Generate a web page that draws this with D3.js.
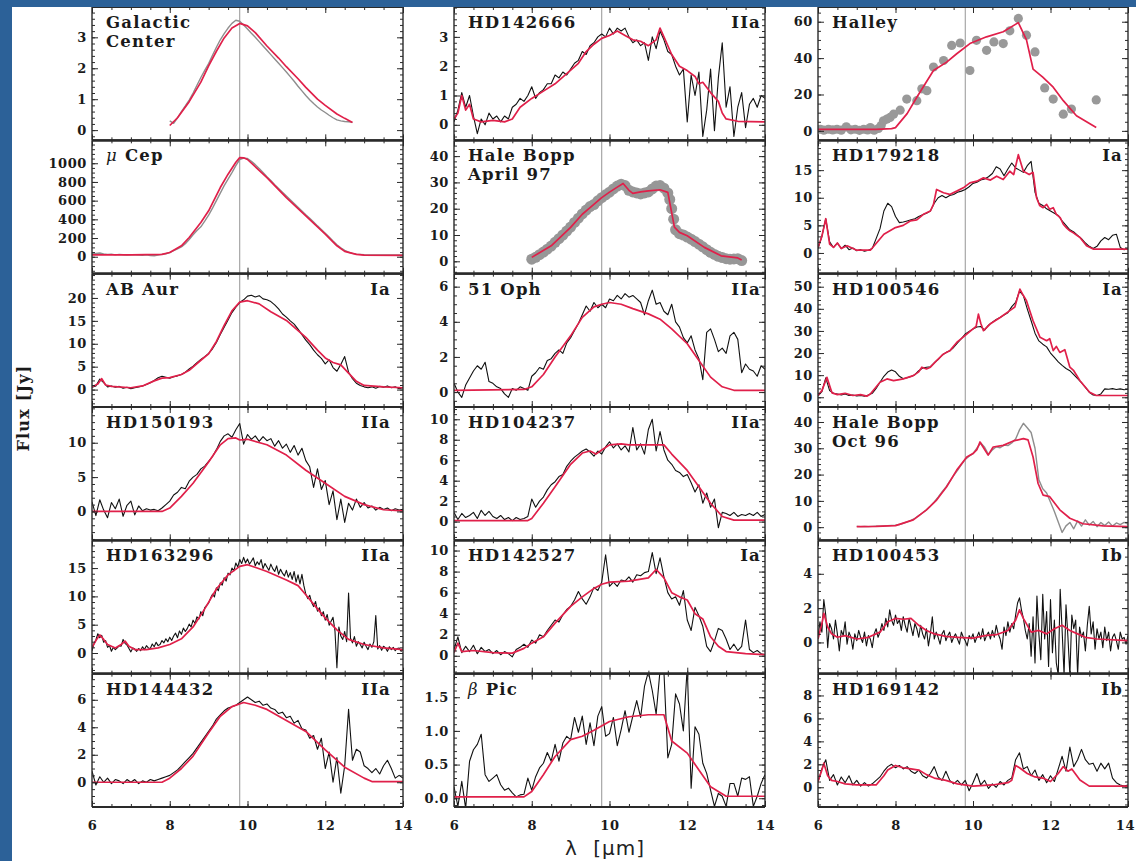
<!DOCTYPE html>
<html>
<head>
<meta charset="utf-8">
<script src="https://cdn.jsdelivr.net/npm/d3@7"></script>
<style>
  html, body { margin: 0; padding: 0; background: #fff; }
  svg { display: block; }
</style>
</head>
<body>
<svg id="fig" width="1136" height="861"></svg>
<script>
// ---------------------------------------------------------------
// Mid-infrared silicate spectra (flux in Jy vs wavelength in µm).
// "Obs" arrays are observed spectra, "Fit" arrays are model fits.
// Grid arrays list flux on a regular wavelength grid (start, step);
// pair arrays list [wavelength, flux].
// ---------------------------------------------------------------

// Galactic Center (grid 8.0 µm, step 0.1)
const galCenterObs = [
  0.30,0.22,0.40,0.60,0.78,0.97,1.20,1.45,1.70,1.93,
  2.15,2.42,2.68,2.92,3.12,3.30,3.45,3.55,3.52,3.40,
  3.27,3.13,3.00,2.86,2.72,2.58,2.44,2.30,2.16,2.02,
  1.88,1.73,1.58,1.42,1.27,1.12,0.98,0.86,0.75,0.65,
  0.57,0.48,0.40,0.33,0.30,0.28,0.27,0.25];
const galCenterFit = [[8.0,0.15],[8.2,0.40],[8.5,0.92],[8.8,1.55],[9.0,2.08],[9.2,2.55],[9.4,2.98],[9.6,3.30],[9.8,3.45],[10.0,3.37],[10.2,3.15],[10.5,2.72],[10.8,2.33],[11.0,2.05],[11.3,1.66],[11.5,1.38],[11.8,1.00],[12.0,0.80],[12.3,0.52],[12.5,0.38],[12.7,0.25]];

// mu Cep (grid 6.0, step 0.1)
const muCepObs = [
  30,35,40,30,25,28,20,25,22,18,
  20,22,18,15,20,12,10,18,25,32,
  45,65,85,105,140,185,235,280,320,380,
  445,520,600,680,760,830,900,975,1040,1055,
  1050,1020,985,945,900,855,815,770,730,690,
  650,610,570,530,490,450,412,372,330,292,
  252,210,168,128,95,68,48,36,28,25,
  22,20,20,18,20,18,20,18,20,18,
  20];
const muCepFit = [[6.0,20],[7.0,20],[7.8,25],[8.0,45],[8.3,117],[8.5,206],[8.8,367],[9.0,491],[9.3,740],[9.5,883],[9.7,1010],[9.8,1060],[9.9,1058],[10.0,1040],[10.5,847],[11.0,633],[11.5,437],[12.0,242],[12.3,117],[12.5,57],[12.8,25],[13.0,18],[14.0,15]];

// AB Aur (grid 6.0, step 0.1)
const abAurObs = [
  0.5,0.8,2.3,1.5,0.6,0.8,0.5,0.7,0.3,0.5,
  0.2,0.4,0.6,0.8,1.1,1.5,2.0,2.6,2.9,2.7,
  2.5,2.8,3.0,3.3,3.8,4.5,5.1,5.9,6.6,7.2,
  7.9,8.9,10.3,12.0,13.6,15.2,16.8,18.0,19.0,19.6,
  20.4,20.6,20.2,20.5,19.8,19.6,19.2,18.5,17.6,16.5,
  15.8,15.0,14.3,13.2,12.0,10.8,9.8,8.6,7.6,6.8,
  5.6,6.5,4.8,4.0,5.5,7.2,3.8,2.4,1.4,0.9,
  0.6,0.4,0.6,0.3,0.7,0.5,0.8,0.4,0.6,0.2,
  0.4];
const abAurFit = [[6.0,0.6],[6.15,1.2],[6.25,2.4],[6.35,1.0],[6.5,0.7],[7.0,0.4],[7.3,0.8],[7.6,1.9],[7.8,2.5],[8.0,2.6],[8.3,3.3],[8.5,4.2],[8.8,6.4],[9.0,7.8],[9.2,10.5],[9.4,14.0],[9.6,17.2],[9.8,19.1],[10.0,19.4],[10.3,18.7],[10.6,17.0],[11.0,15.1],[11.5,11.4],[11.8,8.6],[12.0,6.9],[12.2,5.9],[12.4,5.4],[12.6,3.6],[12.8,1.8],[13.0,0.9],[13.5,0.6],[14.0,0.4]];

// HD150193 (grid 6.0, step 0.1)
const hd150193Obs = [
  1.4,-0.6,1.7,0.2,-0.9,1.3,0.4,1.8,-0.7,0.9,
  1.5,-0.5,0.8,0.1,0.4,0.2,0.3,0.1,0.5,1.0,
  1.5,2.4,2.8,3.5,3.3,4.4,5.0,5.4,6.2,6.6,
  7.3,8.0,9.0,10.2,11.0,11.3,10.8,11.9,12.8,9.8,
  11.2,10.5,11.0,10.2,10.9,10.3,10.6,9.5,10.3,9.2,
  9.8,8.6,9.6,8.2,9.2,7.4,6.5,3.5,6.2,3.2,
  4.5,1.0,3.0,-1.2,1.8,-1.6,1.2,0.2,1.8,0.6,
  1.3,0.5,0.8,0.2,0.6,0.3,0.5,0.1,0.4,0.2,
  0.3];
const hd150193Fit = [[6.0,0],[7.8,0],[8.0,0.5],[8.3,2.2],[8.6,4.1],[9.0,7.2],[9.3,9.7],[9.5,10.6],[9.7,10.7],[9.8,10.4],[10.0,10.5],[10.5,9.7],[11.0,8.2],[11.5,6.0],[12.0,4.1],[12.5,2.2],[13.0,1.0],[13.5,0.25],[14.0,0.1]];

// HD163296 (grid 6.0, step 0.05)
const hd163296Obs = [
  0.4,1.6,2.3,3.4,2.7,3.1,1.9,2.2,1.0,1.3,0.3,1.0,0.6,0.9,1.3,1.2,2.4,1.7,1.4,0.8,
  0.2,0.9,0.7,0.3,0.8,0.4,1.1,0.6,1.3,0.9,0.8,1.6,1.1,1.9,1.3,1.5,2.2,1.8,2.5,2.0,
  2.8,2.2,3.0,3.5,2.7,3.9,3.3,4.4,3.8,4.3,5.1,4.6,5.8,5.2,6.4,6.0,7.3,6.6,8.0,8.4,
  8.8,9.7,10.4,9.9,11.5,11.0,12.4,12.0,13.3,12.7,14.1,13.8,15.0,14.5,15.9,15.2,16.5,15.8,16.9,15.9,
  16.6,15.7,16.2,16.8,15.4,16.1,15.6,16.5,14.9,15.8,15.2,14.6,15.7,14.9,14.4,15.4,13.9,14.8,14.1,13.6,
  14.6,13.4,14.2,13.0,14.4,12.5,13.8,12.2,13.9,11.9,10.4,9.6,10.2,8.9,8.2,9.1,7.4,8.0,6.6,7.3,
  5.8,6.8,4.9,5.6,6.3,3.9,-2.6,4.6,3.0,2.4,3.8,2.0,10.6,2.6,1.8,2.9,1.2,2.0,1.5,0.9,
  1.9,1.2,0.6,1.6,1.0,2.0,6.6,0.7,1.3,0.5,1.2,0.9,0.3,1.1,0.6,1.0,0.4,0.8,0.9,0.3,
  0.6];
const hd163296Fit = [[6.0,1.0],[6.1,2.2],[6.2,3.2],[6.3,2.4],[6.4,1.5],[6.6,0.9],[6.75,1.5],[6.85,2.1],[6.95,1.2],[7.1,0.6],[7.4,0.6],[7.7,0.9],[8.0,1.5],[8.3,2.5],[8.6,4.6],[8.9,7.8],[9.2,11.3],[9.5,13.8],[9.8,15.3],[10.0,15.6],[10.5,14.4],[11.0,12.9],[11.3,11.9],[11.5,10.3],[11.8,7.8],[12.0,6.2],[12.3,4.1],[12.6,2.4],[13.0,1.5],[13.5,0.9],[14.0,0.6]];

// HD144432 (grid 6.0, step 0.1)
const hd144432Obs = [
  0.8,-0.2,0.4,0.0,0.3,-0.1,0.2,0.1,-0.1,0.2,
  0.0,0.2,-0.1,0.1,0.0,0.2,0.1,0.2,0.3,0.4,
  0.5,0.7,0.9,1.2,1.5,1.8,2.1,2.5,2.9,3.3,
  3.7,4.1,4.6,4.9,5.2,5.4,5.5,5.6,5.8,6.0,
  6.2,6.0,5.8,5.9,5.6,5.7,5.4,5.3,5.0,5.1,
  4.7,4.8,4.3,4.5,3.9,3.8,3.2,3.4,2.4,3.2,
  1.0,2.2,0.0,1.8,-0.8,1.2,5.3,1.6,2.4,2.2,
  1.2,1.0,0.7,1.0,0.6,1.2,1.6,1.0,0.3,0.5,
  0.3];
const hd144432Fit = [[6.0,0],[7.8,0],[8.0,0.3],[8.3,1.0],[8.6,1.9],[9.0,3.6],[9.3,4.8],[9.6,5.5],[9.9,5.8],[10.2,5.6],[10.5,5.3],[11.0,4.5],[11.5,3.7],[12.0,2.35],[12.5,1.1],[13.0,0.3],[13.2,0.05],[14.0,0.05]];

// HD142666 (grid 6.0, step 0.1)
const hd142666Obs = [
  0.1,0.5,1.1,0.6,1.0,0.3,-0.3,0.2,0.0,0.4,
  0.2,0.3,0.1,0.3,0.2,0.6,0.7,0.9,0.8,1.0,
  1.3,0.9,1.1,1.2,1.4,1.4,1.7,1.6,1.8,1.7,
  1.9,2.1,2.2,2.5,2.4,2.7,2.8,3.0,3.1,3.0,
  3.3,3.1,3.3,3.2,3.3,3.0,2.8,2.9,2.7,2.8,
  2.2,3.0,2.6,3.2,2.9,2.5,2.4,2.0,1.7,1.9,
  0.1,1.7,1.0,1.8,-0.4,0.5,1.9,-0.2,1.6,2.8,
  0.6,1.3,-0.4,0.6,1.1,-0.1,0.7,0.9,0.6,1.0,
  0.9];
const hd142666Fit = [[6.0,0.2],[6.1,0.4],[6.2,1.0],[6.3,0.5],[6.4,0.7],[6.5,0.2],[6.7,0.1],[7.0,0.15],[7.3,0.1],[7.5,0.2],[7.7,0.6],[8.0,0.9],[8.3,1.15],[8.6,1.4],[8.9,1.75],[9.2,2.1],[9.4,2.5],[9.6,2.75],[9.8,2.95],[10.0,3.05],[10.2,3.2],[10.4,3.05],[10.6,2.9],[10.8,2.85],[11.0,2.7],[11.2,2.9],[11.3,3.3],[11.4,3.0],[11.6,2.4],[11.8,2.0],[12.0,1.85],[12.2,1.65],[12.3,1.4],[12.4,1.45],[12.6,1.1],[12.8,0.8],[12.9,0.4],[13.0,0.2],[13.3,0.12],[14.0,0.1]];

// Hale Bopp, April 1997 ([µm, Jy])
const haleBoppAprObs = [[8.0,0.8],[8.1,1.5],[8.2,2.5],[8.3,3.5],[8.4,4.6],[8.5,5.8],[8.6,7.2],[8.7,8.6],[8.8,10.0],[8.9,11.5],[9.0,13.0],[9.1,14.8],[9.2,16.4],[9.3,18.0],[9.4,19.5],[9.5,20.8],[9.6,21.6],[9.7,23.0],[9.8,24.2],[9.9,25.3],[10.0,26.3],[10.1,27.5],[10.2,28.6],[10.3,29.3],[10.4,28.8],[10.5,27.0],[10.6,26.4],[10.7,26.0],[10.8,25.6],[10.9,26.0],[11.0,26.4],[11.1,27.5],[11.2,28.6],[11.3,28.8],[11.4,27.8],[11.5,26.0],[11.55,23.5],[11.6,20.0],[11.65,16.0],[11.7,12.0],[11.8,10.5],[11.9,10.0],[12.0,9.2],[12.1,8.4],[12.2,7.5],[12.3,6.5],[12.4,5.5],[12.5,4.4],[12.6,3.4],[12.7,2.6],[12.8,1.9],[12.9,1.4],[13.0,1.0],[13.1,0.8],[13.2,0.9],[13.3,1.0],[13.4,0.3]];
const haleBoppAprFit = [[8.0,1.5],[8.5,5.9],[9.0,12.9],[9.3,17.9],[9.5,20.4],[9.8,24.2],[10.0,26.3],[10.2,28.2],[10.35,29.6],[10.5,27.0],[10.6,25.8],[10.8,26.4],[11.0,26.8],[11.3,27.2],[11.5,26.2],[11.67,13.0],[11.8,11.0],[12.0,9.7],[12.44,5.3],[12.87,2.1],[13.3,1.3],[13.4,0.5]];

// 51 Oph (grid 6.0, step 0.1)
const oph51Obs = [
  0.5,0.0,-0.3,0.4,0.8,1.2,1.5,1.3,1.7,0.6,
  0.5,0.3,0.2,-0.1,-0.3,0.2,0.1,0.3,0.2,0.1,
  0.9,1.1,1.4,1.3,1.8,1.9,2.2,2.4,2.2,2.8,
  3.1,3.5,3.9,4.4,4.9,4.6,5.1,4.8,5.0,4.8,
  5.3,5.2,5.5,5.3,5.6,5.4,5.5,5.3,5.1,4.4,
  5.2,5.8,5.0,5.1,4.6,4.4,5.0,4.0,3.7,3.1,
  2.8,3.2,2.4,1.9,0.7,3.4,3.6,3.0,2.3,2.5,
  2.2,3.2,3.4,3.0,1.1,1.6,1.3,1.2,0.9,1.5,
  1.3];
const oph51Fit = [[6.0,0.1],[7.8,0.15],[8.0,0.3],[8.3,1.0],[8.6,2.0],[9.0,3.2],[9.3,4.25],[9.6,4.85],[9.8,5.0],[10.0,5.1],[10.3,5.0],[10.6,4.75],[11.0,4.45],[11.3,4.15],[11.6,3.6],[12.0,2.75],[12.3,1.8],[12.6,0.85],[12.9,0.3],[13.2,0.1],[14.0,0.1]];

// HD104237 (grid 6.0, step 0.1)
const hd104237Obs = [
  0.9,0.2,0.8,0.4,0.6,0.9,0.3,1.1,0.6,1.0,
  0.5,0.3,0.6,0.2,0.4,0.1,0.4,0.2,0.3,0.5,
  2.2,1.4,2.0,2.4,3.1,3.6,3.9,4.4,4.6,5.4,
  5.9,6.3,6.6,6.9,7.1,6.8,6.4,6.9,6.6,7.3,
  7.8,7.2,7.6,7.0,7.4,6.8,9.2,7.0,7.6,6.6,
  9.0,10.0,6.9,8.8,7.0,6.0,5.6,5.0,4.8,4.4,
  4.6,3.8,2.9,3.6,1.8,2.8,1.4,2.2,-0.6,0.9,
  0.8,0.6,0.9,0.5,0.7,0.6,0.8,0.6,0.9,0.5,
  0.7];
const hd104237Fit = [[6.0,0.1],[7.9,0.1],[8.0,0.3],[8.3,1.8],[8.6,3.4],[9.0,5.6],[9.3,6.7],[9.5,6.9],[9.65,6.6],[9.8,7.0],[10.0,7.5],[10.3,7.6],[10.5,7.5],[11.0,7.5],[11.4,7.5],[11.6,6.6],[12.0,5.0],[12.3,3.4],[12.6,1.8],[12.9,0.5],[13.2,0.15],[14.0,0.15]];

// HD142527 (grid 6.0, step 0.1)
const hd142527Obs = [
  0.6,1.8,0.3,0.9,0.4,1.0,0.2,0.8,0.4,0.6,
  0.2,0.5,0.1,0.4,0.2,-0.1,0.6,0.8,1.1,0.8,
  1.5,1.2,2.0,1.8,2.4,2.9,3.4,3.2,3.9,4.4,
  4.7,5.3,6.1,5.4,4.9,5.6,6.5,6.2,7.0,9.6,
  6.6,7.0,6.6,7.2,7.1,7.5,7.0,7.7,7.6,7.9,
  8.0,9.8,7.8,9.3,7.5,6.0,5.4,5.6,4.8,6.2,
  3.4,2.4,4.6,3.8,2.8,0.9,0.4,1.4,2.6,2.4,
  1.6,0.6,1.1,0.5,0.9,3.4,0.6,0.3,0.5,0.2,
  0.1];
const hd142527Fit = [[6.0,0.3],[6.1,1.2],[6.2,0.4],[6.5,0.5],[7.0,0.3],[7.5,0.25],[7.8,0.7],[8.0,1.2],[8.3,1.8],[8.6,3.1],[9.0,4.7],[9.3,5.6],[9.6,6.4],[9.8,6.8],[10.0,7.0],[10.5,7.1],[11.0,7.4],[11.2,8.2],[11.4,7.4],[11.6,6.0],[11.8,5.6],[12.0,5.3],[12.2,4.0],[12.4,3.5],[12.6,1.8],[12.8,0.9],[13.0,0.4],[13.5,0.2],[14.0,0.1]];

// beta Pic (grid 6.0, step 0.1)
const betaPicObs = [
  0.17,-0.12,0.25,-0.15,0.55,0.72,0.80,0.95,0.35,0.25,
  0.30,0.35,0.20,0.12,0.15,0.08,0.02,0.05,0.06,0.30,
  0.12,0.32,0.45,0.52,0.68,0.55,0.80,0.55,0.82,0.92,
  0.87,1.20,0.98,1.22,0.80,1.12,0.78,1.22,1.36,0.92,
  0.96,1.20,0.78,1.02,1.30,0.98,1.22,1.45,1.20,1.66,
  1.88,1.60,1.25,1.90,1.88,0.60,0.80,1.55,1.40,1.00,
  1.95,0.15,1.06,0.95,0.52,0.37,0.12,-0.12,0.07,0.03,
  -0.12,0.22,0.22,0.03,0.30,0.28,0.32,-0.12,0.03,0.22,
  0.35];
const betaPicFit = [[6.0,0.02],[7.8,0.02],[8.0,0.1],[8.3,0.35],[8.6,0.62],[9.0,0.87],[9.3,0.92],[9.6,1.01],[10.0,1.14],[10.5,1.21],[11.0,1.24],[11.4,1.24],[11.6,0.85],[12.0,0.67],[12.3,0.42],[12.6,0.17],[13.0,0.03],[14.0,0.03]];

// Halley ([µm, Jy])
const halleyObs = [[6.06,0.9],[6.15,0.4],[6.27,0.9],[6.38,0.5],[6.49,0.9],[6.6,0.4],[6.73,2.2],[6.85,0.6],[6.96,0.9],[7.07,0.3],[7.18,0.9],[7.28,0.5],[7.35,1.8],[7.45,0.4],[7.56,1.3],[7.63,3.0],[7.69,5.5],[7.78,6.5],[7.86,7.4],[7.95,9.2],[8.12,11.4],[8.29,17.5],[8.55,16.6],[8.68,23.1],[8.81,22.1],[8.98,35.1],[9.24,38.7],[9.45,47.0],[9.67,48.3],[9.92,33.2],[10.09,49.8],[10.35,44.3],[10.54,48.9],[10.78,48.0],[10.95,55.0],[11.17,61.8],[11.38,52.6],[11.6,43.4],[11.85,23.6],[12.07,17.5],[12.33,9.2],[12.54,12.0],[13.18,17.0]];
const halleyFit = [[6.0,0.8],[7.5,0.8],[7.9,1.2],[8.0,1.8],[8.3,9.5],[8.55,18.5],[8.98,33.2],[9.32,37.8],[9.58,42.4],[9.92,48.0],[10.35,51.7],[10.78,54.5],[11.17,59.5],[11.38,50.0],[11.55,34.0],[11.8,29.5],[12.07,24.0],[12.33,16.6],[12.67,8.3],[13.18,1.8]];

// HD179218 (grid 6.0, step 0.1)
const hd179218Obs = [
  0.8,3.0,6.2,2.0,1.0,1.8,0.8,1.4,0.6,0.9,
  0.4,0.6,0.3,0.5,0.8,2.6,4.4,7.6,9.0,8.4,
  6.6,5.5,5.6,5.8,6.0,6.2,6.6,6.9,7.2,7.6,
  9.0,10.0,10.4,10.0,10.4,10.6,11.0,11.2,11.5,12.0,
  12.6,12.8,13.2,13.4,13.8,14.4,15.6,15.2,14.0,15.2,
  16.3,15.4,15.0,14.6,15.8,16.6,11.0,9.0,8.6,8.0,
  7.6,7.2,6.8,5.8,5.0,4.2,3.8,3.2,2.6,1.8,
  1.2,0.8,1.2,2.2,2.8,2.4,3.2,3.4,1.0,0.6,
  0.8];
const hd179218Fit = [[6.0,1.0],[6.1,3.0],[6.2,6.2],[6.3,1.6],[6.4,1.0],[6.5,1.8],[6.6,0.8],[6.75,1.3],[7.0,0.5],[7.35,0.5],[7.45,1.3],[7.7,3.4],[8.0,4.6],[8.2,5.0],[8.38,5.8],[8.55,6.0],[8.72,7.0],[8.9,7.6],[8.98,8.8],[9.06,11.5],[9.24,10.9],[9.4,10.6],[9.58,11.2],[9.75,11.8],[9.92,12.7],[10.1,13.0],[10.27,13.6],[10.45,13.2],[10.61,13.9],[10.78,13.3],[10.95,14.8],[11.05,14.2],[11.17,17.8],[11.3,14.8],[11.45,14.2],[11.55,14.6],[11.64,10.0],[11.72,8.6],[11.81,8.2],[11.9,8.8],[11.98,7.9],[12.07,8.2],[12.15,7.0],[12.25,6.4],[12.33,5.2],[12.42,4.5],[12.5,4.0],[12.6,3.6],[12.76,2.8],[12.93,1.3],[13.1,0.7],[14.0,0.7]];

// HD100546 (grid 6.0, step 0.1)
const hd100546Obs = [
  0.6,2.5,8.8,3.0,1.8,1.5,1.0,1.5,0.8,1.0,
  0.6,0.8,0.5,1.0,1.8,4.0,6.8,9.5,11.4,12.3,
  11.5,9.5,8.4,8.8,9.4,10.2,12.0,13.2,13.6,13.8,
  15.6,17.0,19.0,20.2,21.0,22.5,24.6,26.5,28.6,29.8,
  30.9,31.8,32.0,30.4,32.6,34.0,35.2,36.1,37.2,38.2,
  41.0,42.9,48.0,46.0,40.0,34.6,29.0,25.5,24.0,22.8,
  20.0,18.0,16.0,14.4,13.0,12.0,10.2,8.4,6.6,4.5,
  2.3,1.0,0.8,1.5,3.8,3.6,3.9,3.5,3.8,3.4,
  3.6];
const hd100546Fit = [[6.0,0.8],[6.1,3.0],[6.23,9.0],[6.36,2.0],[6.5,1.2],[6.7,1.8],[6.9,0.8],[7.1,1.2],[7.26,0.5],[7.35,1.5],[7.6,6.8],[7.78,8.3],[7.95,7.5],[8.1,8.0],[8.2,8.3],[8.46,9.8],[8.6,11.5],[8.68,13.6],[8.8,12.8],[8.9,13.6],[9.06,16.6],[9.24,19.6],[9.4,21.0],[9.58,24.8],[9.84,28.6],[10.0,30.9],[10.08,32.0],[10.14,37.6],[10.2,33.5],[10.27,30.1],[10.44,33.1],[10.7,36.1],[10.95,39.2],[11.08,40.8],[11.21,48.9],[11.3,46.0],[11.38,43.7],[11.55,34.6],[11.73,27.1],[11.9,25.6],[11.98,26.5],[12.07,21.1],[12.15,23.0],[12.24,20.3],[12.37,21.5],[12.5,13.6],[12.6,12.0],[12.76,7.5],[13.01,2.3],[13.18,0.8],[14.0,0.8]];

// Hale Bopp, October 1996 (grid 7.0, step 0.1)
const haleBoppOctObs = [
  0.3,0.2,0.3,0.2,0.3,0.4,0.4,0.5,0.6,0.7,
  0.8,1.0,1.5,2.0,2.6,3.4,4.4,5.5,6.6,8.0,
  9.6,11.4,13.4,15.2,17.4,19.6,21.6,23.8,25.8,27.0,
  28.0,30.0,32.0,30.4,27.6,29.4,30.6,30.2,31.2,31.0,
  32.0,33.5,37.0,39.5,37.8,36.0,30.0,18.0,14.6,13.0,
  9.5,6.0,2.0,-2.0,0.5,1.8,-0.6,2.4,0.4,2.8,
  0.8,2.2,0.2,1.8,0.6,2.0,0.4,1.6,1.0,1.8,
  1.2];
const haleBoppOctFit = [[7.0,0.25],[7.5,0.3],[8.0,0.6],[8.46,2.8],[8.8,6.6],[9.06,10.3],[9.32,15.4],[9.58,21.7],[9.84,26.7],[10.0,28.0],[10.1,29.5],[10.18,32.4],[10.28,30.0],[10.39,27.4],[10.52,30.5],[10.78,31.1],[11.04,32.8],[11.3,33.7],[11.42,33.2],[11.55,26.7],[11.68,16.6],[11.81,12.2],[11.98,11.6],[12.24,6.6],[12.5,3.4],[12.84,1.3],[13.36,0.5],[14.0,0.25]];

// HD100453 (grid 6.0, step 0.05)
const hd100453Obs = [
  0.3,1.2,0.6,2.5,1.6,-0.3,1.1,0.8,0.2,1.3,0.5,-0.5,0.7,0.4,1.2,-0.1,0.6,0.3,-0.4,0.5,
  0.1,0.7,0.3,0.0,0.6,-0.2,0.4,0.2,-0.3,0.5,0.8,0.3,0.6,1.1,0.7,1.4,0.9,1.9,1.3,1.0,
  1.6,1.1,1.3,0.7,1.5,1.0,0.6,1.4,0.9,0.4,1.1,0.8,0.3,1.0,0.5,0.2,0.8,-0.2,0.5,1.5,
  0.2,0.6,0.3,-0.1,0.5,0.7,0.1,0.4,0.6,0.0,0.3,0.5,0.2,-0.1,0.6,0.3,0.1,-0.2,0.4,0.2,
  0.5,0.0,0.3,0.6,0.2,0.8,0.1,0.4,0.6,0.2,0.7,0.3,1.0,0.5,0.2,-0.4,0.9,0.4,1.2,0.6,
  1.1,0.8,1.6,2.3,2.6,1.9,1.4,0.7,0.2,1.1,-0.8,1.5,-1.2,2.7,0.5,-1.0,2.8,0.2,1.8,-1.4,
  2.5,-0.6,1.3,-1.2,-1.9,3.1,0.7,-1.9,2.2,0.3,-1.9,1.6,0.8,1.3,-1.9,0.9,0.3,0.6,-0.5,1.0,
  2.1,0.5,1.2,-0.4,0.8,0.2,0.6,-0.3,0.9,0.1,0.6,-0.5,0.3,0.5,0.1,-0.4,0.6,0.2,0.3,-0.1,
  0.4];
const hd100453Fit = [[6.0,0.2],[6.1,1.1],[6.15,1.7],[6.25,0.9],[6.35,0.5],[6.5,0.3],[6.7,0.4],[7.0,0.2],[7.3,0.3],[7.6,0.6],[7.8,1.2],[8.0,1.4],[8.2,1.35],[8.4,1.4],[8.6,1.0],[8.8,0.7],[9.0,0.5],[9.3,0.35],[9.6,0.3],[10.0,0.25],[10.3,0.4],[10.6,0.45],[10.9,0.7],[11.1,1.3],[11.2,1.9],[11.3,1.4],[11.5,0.6],[11.7,0.7],[11.9,0.5],[12.1,0.8],[12.3,1.0],[12.5,0.7],[12.7,0.5],[12.9,0.3],[13.2,0.2],[14.0,0.1]];

// HD169142 (grid 6.0, step 0.1)
const hd169142Obs = [
  0.5,1.6,2.4,0.6,1.1,0.2,0.9,0.4,1.0,0.2,
  0.6,0.1,0.4,0.1,0.3,0.6,0.9,1.4,1.8,2.0,
  1.7,1.9,1.6,1.8,1.4,1.2,1.5,1.0,0.8,1.2,
  1.8,0.9,0.6,1.4,0.6,0.3,0.6,0.2,0.6,-0.3,
  0.4,1.2,0.2,0.6,-0.1,0.3,0.0,0.5,0.2,0.6,
  0.8,2.4,3.0,1.6,1.8,1.0,1.5,0.6,1.1,0.4,
  1.0,0.5,1.6,2.7,1.4,3.5,1.8,2.4,3.3,2.4,
  2.0,2.1,1.4,2.1,1.6,2.1,0.8,0.4,0.2,0.1,
  0.2];
const hd169142Fit = [[6.0,0.5],[6.1,1.5],[6.15,2.1],[6.25,1.0],[6.35,0.6],[6.5,0.5],[6.7,0.3],[7.0,0.2],[7.5,0.2],[7.7,1.0],[7.8,1.5],[8.0,1.9],[8.2,1.7],[8.4,1.6],[8.6,1.5],[8.8,1.1],[9.0,0.8],[9.3,0.6],[9.6,0.3],[10.0,0.1],[10.5,0.2],[10.9,0.4],[11.0,0.6],[11.1,1.9],[11.2,1.7],[11.4,1.2],[11.6,0.9],[11.8,0.8],[12.0,0.5],[12.2,1.2],[12.33,1.8],[12.45,1.4],[12.55,1.6],[12.76,0.64],[13.0,0.1],[14.0,0.1]];

// Axis tick values
const waveTicks = [6, 8, 10, 12, 14];
const ticksGC = [0, 1, 2, 3];
const ticksMuCep = [0, 200, 400, 600, 800, 1000];
const ticksAbAur = [0, 5, 10, 15, 20];
const ticksHd150193 = [0, 5, 10];
const ticksHd163296 = [0, 5, 10, 15];
const ticksHd144432 = [0, 2, 4, 6];
const ticksHd142666 = [0, 1, 2, 3];
const ticksHaleBopp = [0, 10, 20, 30, 40];
const ticksOph51 = [0, 2, 4, 6];
const ticksHd104237 = [0, 2, 4, 6, 8, 10];
const ticksHd142527 = [0, 2, 4, 6, 8, 10];
const ticksBetaPic = [0, 0.5, 1.0, 1.5];
const ticksHalley = [0, 20, 40, 60];
const ticksHd179218 = [0, 5, 10, 15];
const ticksHd100546 = [0, 10, 20, 30, 40, 50];
const ticksHd100453 = [0, 2, 4];
const ticksHd169142 = [0, 2, 4, 6, 8];

// ---------------------------------------------------------------
function onGrid(start, step, values) {
  return values.map((v, i) => [+(start + i * step).toFixed(3), v]);
}

const panels = [
  { col: 0, row: 0, name: ["Galactic", "Center"], cls: "", yDomain: [-0.33, 3.98], ticks: ticksGC, minor: 0.2,
    obs: onGrid(8.0, 0.1, galCenterObs), kind: "grey", fit: galCenterFit },
  { col: 0, row: 1, name: ["μ Cep"], cls: "", yDomain: [-181, 1245], ticks: ticksMuCep, minor: 50,
    obs: onGrid(6.0, 0.1, muCepObs), kind: "grey", fit: muCepFit },
  { col: 0, row: 2, name: ["AB Aur"], cls: "Ia", yDomain: [-3.8, 25.3], ticks: ticksAbAur, minor: 1,
    obs: onGrid(6.0, 0.1, abAurObs), kind: "black", fit: abAurFit },
  { col: 0, row: 3, name: ["HD150193"], cls: "IIa", yDomain: [-4.2, 15.2], ticks: ticksHd150193, minor: 1,
    obs: onGrid(6.0, 0.1, hd150193Obs), kind: "black", fit: hd150193Fit },
  { col: 0, row: 4, name: ["HD163296"], cls: "IIa", yDomain: [-3.65, 19.9], ticks: ticksHd163296, minor: 1,
    obs: onGrid(6.0, 0.05, hd163296Obs), kind: "black", fit: hd163296Fit },
  { col: 0, row: 5, name: ["HD144432"], cls: "IIa", yDomain: [-1.8, 7.9], ticks: ticksHd144432, minor: 0.5,
    obs: onGrid(6.0, 0.1, hd144432Obs), kind: "black", fit: hd144432Fit },

  { col: 1, row: 0, name: ["HD142666"], cls: "IIa", yDomain: [-0.53, 4.02], ticks: ticksHd142666, minor: 0.2,
    obs: onGrid(6.0, 0.1, hd142666Obs), kind: "black", fit: hd142666Fit },
  { col: 1, row: 1, name: ["Hale Bopp", "April 97"], cls: "", yDomain: [-4.7, 46], ticks: ticksHaleBopp, minor: 2,
    obs: haleBoppAprObs, kind: "band", fit: haleBoppAprFit },
  { col: 1, row: 2, name: ["51 Oph"], cls: "IIa", yDomain: [-0.85, 6.74], ticks: ticksOph51, minor: 0.5,
    obs: onGrid(6.0, 0.1, oph51Obs), kind: "black", fit: oph51Fit },
  { col: 1, row: 3, name: ["HD104237"], cls: "IIa", yDomain: [-1.83, 11.2], ticks: ticksHd104237, minor: 0.5,
    obs: onGrid(6.0, 0.1, hd104237Obs), kind: "black", fit: hd104237Fit },
  { col: 1, row: 4, name: ["HD142527"], cls: "Ia", yDomain: [-1.7, 10.97], ticks: ticksHd142527, minor: 0.5,
    obs: onGrid(6.0, 0.1, hd142527Obs), kind: "black", fit: hd142527Fit },
  { col: 1, row: 5, name: ["β Pic"], cls: "", yDomain: [-0.13, 1.85], ticks: ticksBetaPic, minor: 0.1, fmt: ".1f",
    obs: onGrid(6.0, 0.1, betaPicObs), kind: "black", fit: betaPicFit },

  { col: 2, row: 0, name: ["Halley"], cls: "", yDomain: [-5.2, 68.1], ticks: ticksHalley, minor: 5,
    obs: halleyObs, kind: "dots", fit: halleyFit },
  { col: 2, row: 1, name: ["HD179218"], cls: "Ia", yDomain: [-3.75, 20.4], ticks: ticksHd179218, minor: 1,
    obs: onGrid(6.0, 0.1, hd179218Obs), kind: "black", fit: hd179218Fit },
  { col: 2, row: 2, name: ["HD100546"], cls: "Ia", yDomain: [-4.4, 55.9], ticks: ticksHd100546, minor: 2,
    obs: onGrid(6.0, 0.1, hd100546Obs), kind: "black", fit: hd100546Fit },
  { col: 2, row: 3, name: ["Hale Bopp", "Oct 96"], cls: "", yDomain: [-5, 45.7], ticks: ticksHaleBopp, minor: 2,
    obs: onGrid(7.0, 0.1, haleBoppOctObs), kind: "grey", fit: haleBoppOctFit },
  { col: 2, row: 4, name: ["HD100453"], cls: "Ib", yDomain: [-1.82, 5.95], ticks: ticksHd100453, minor: 0.5,
    obs: onGrid(6.0, 0.05, hd100453Obs), kind: "black", fit: hd100453Fit },
  { col: 2, row: 5, name: ["HD169142"], cls: "Ib", yDomain: [-1.72, 9.9], ticks: ticksHd169142, minor: 0.5,
    obs: onGrid(6.0, 0.1, hd169142Obs), kind: "black", fit: hd169142Fit }
];

// ---------------------------------------------------------------
// Layout and style
const W = 1136, H = 861;
const BLUE = "#2c6198";
const COLS = [[92, 403], [454, 765], [818, 1128]];
const CLASS_INSET = [12, 4, 5];
const TOP = 7, ROW_H = 800 / 6;
const RED = "#e0204a";
const INK = "#2a2a2a";
const SERIF = "'DejaVu Serif', 'Liberation Serif', serif";

const svg = d3.select("#fig");
svg.append("rect").attr("width", W).attr("height", H).attr("fill", "#fff");

const defs = svg.append("defs");

function styleAxis(sel, withText) {
  sel.select(".domain").remove();
  sel.selectAll(".tick line").attr("stroke", INK).attr("stroke-width", 1);
  sel.attr("font-family", null).attr("font-size", null);
  if (withText) {
    sel.selectAll(".tick text")
      .attr("font-family", SERIF).attr("font-weight", "bold")
      .attr("font-size", 13).attr("fill", "#1a1a1a")
      .attr("letter-spacing", 0.6);
  }
}

function minorValues(lo, hi, step) {
  const out = [];
  for (let k = Math.ceil(lo / step - 1e-9); k * step <= hi + 1e-9; k++) out.push(+(k * step).toFixed(6));
  return out;
}

const waveMinor = minorValues(6, 14, 0.5);

panels.forEach((p, i) => {
  const [x0, x1] = COLS[p.col];
  const y0 = TOP + p.row * ROW_H, y1 = y0 + ROW_H;
  const x = d3.scaleLinear().domain([6, 14]).range([x0, x1]);
  const y = d3.scaleLinear().domain(p.yDomain).range([y1, y0]);

  defs.append("clipPath").attr("id", "clip" + i)
    .append("rect").attr("x", x0).attr("y", y0).attr("width", x1 - x0).attr("height", y1 - y0);

  const g = svg.append("g");
  const plot = g.append("g").attr("clip-path", `url(#clip${i})`);

  // 9.8 µm reference line
  plot.append("line")
    .attr("x1", x(9.8)).attr("x2", x(9.8)).attr("y1", y0).attr("y2", y1)
    .attr("stroke", "#7a7a7a").attr("stroke-width", 0.8);

  const line = d3.line().x(d => x(d[0])).y(d => y(d[1]));

  if (p.kind === "black") {
    plot.append("path").datum(p.obs).attr("d", line)
      .attr("fill", "none").attr("stroke", "#111").attr("stroke-width", 1.1)
      .attr("stroke-linejoin", "round");
  } else if (p.kind === "grey") {
    plot.append("path").datum(p.obs).attr("d", line)
      .attr("fill", "none").attr("stroke", "#8e8e8e").attr("stroke-width", 1.4)
      .attr("stroke-linejoin", "round");
  } else if (p.kind === "band") {
    plot.selectAll("circle").data(p.obs).join("circle")
      .attr("cx", d => x(d[0])).attr("cy", d => y(d[1])).attr("r", 5.5)
      .attr("fill", "#979797");
  } else if (p.kind === "dots") {
    plot.selectAll("circle").data(p.obs).join("circle")
      .attr("cx", d => x(d[0])).attr("cy", d => y(d[1])).attr("r", 4.6)
      .attr("fill", "#999");
  }

  plot.append("path").datum(p.fit).attr("d", line)
    .attr("fill", "none").attr("stroke", RED).attr("stroke-width", 1.7)
    .attr("stroke-linejoin", "round");

  // y axes (left with labels, right ticks only)
  const fmt = p.fmt ? d3.format(p.fmt) : d3.format("d");
  const yMinor = minorValues(p.yDomain[0], p.yDomain[1], p.minor);
  g.append("g").attr("transform", `translate(${x0},0)`)
    .call(d3.axisLeft(y).tickValues(yMinor).tickSize(-3).tickFormat(""))
    .call(s => styleAxis(s, false));
  g.append("g").attr("transform", `translate(${x0},0)`)
    .call(d3.axisLeft(y).tickValues(p.ticks).tickSize(-6).tickPadding(5).tickFormat(fmt))
    .call(s => styleAxis(s, true));
  g.append("g").attr("transform", `translate(${x1},0)`)
    .call(d3.axisRight(y).tickValues(yMinor).tickSize(-3).tickFormat(""))
    .call(s => styleAxis(s, false));
  g.append("g").attr("transform", `translate(${x1},0)`)
    .call(d3.axisRight(y).tickValues(p.ticks).tickSize(-6).tickFormat(""))
    .call(s => styleAxis(s, false));

  // x axes (top and bottom, labels on the last row)
  const isBottom = p.row === 5;
  g.append("g").attr("transform", `translate(0,${y1})`)
    .call(d3.axisBottom(x).tickValues(waveMinor).tickSize(-3).tickFormat(""))
    .call(s => styleAxis(s, false));
  const xLab = g.append("g").attr("transform", `translate(0,${y1})`)
    .call(d3.axisBottom(x).tickValues(waveTicks).tickSize(-6).tickPadding(14)
      .tickFormat(isBottom ? d3.format("d") : ""))
    .call(s => styleAxis(s, isBottom));
  if (isBottom && p.col === 2) {
    // keep the last label inside the page
    xLab.selectAll(".tick text").filter(d => d === 14).attr("dx", -3);
  }
  g.append("g").attr("transform", `translate(0,${y0})`)
    .call(d3.axisTop(x).tickValues(waveMinor).tickSize(-3).tickFormat(""))
    .call(s => styleAxis(s, false));
  g.append("g").attr("transform", `translate(0,${y0})`)
    .call(d3.axisTop(x).tickValues(waveTicks).tickSize(-6).tickFormat(""))
    .call(s => styleAxis(s, false));

  // frame
  g.append("line").attr("x1", x0).attr("x2", x0).attr("y1", y0).attr("y2", y1)
    .attr("stroke", INK).attr("stroke-width", 1.4);
  g.append("line").attr("x1", x1).attr("x2", x1).attr("y1", y0).attr("y2", y1)
    .attr("stroke", INK).attr("stroke-width", 1.4);
  g.append("line").attr("x1", x0).attr("x2", x1).attr("y1", y0).attr("y2", y0)
    .attr("stroke", INK).attr("stroke-width", 2.2);
  g.append("line").attr("x1", x0).attr("x2", x1).attr("y1", y1).attr("y2", y1)
    .attr("stroke", INK).attr("stroke-width", 2.2);

  // object name
  p.name.forEach((txt, k) => {
    const t = g.append("text")
      .attr("x", x0 + 14).attr("y", y0 + 21 + k * 18.5)
      .attr("font-family", SERIF).attr("font-weight", "bold")
      .attr("font-size", 16.5).attr("letter-spacing", 1.2).attr("fill", "#1a1a1a");
    const m = txt.match(/^([μβ])(.*)$/);
    if (m) {
      t.append("tspan").attr("font-style", "italic").attr("font-weight", "normal").text(m[1]);
      t.append("tspan").text(m[2]);
    } else {
      t.text(txt);
    }
  });

  // spectral class
  if (p.cls) {
    g.append("text")
      .attr("x", x1 - CLASS_INSET[p.col]).attr("y", y0 + 21)
      .attr("text-anchor", "end")
      .attr("font-family", SERIF).attr("font-weight", "bold")
      .attr("font-size", 16.5).attr("letter-spacing", 1.2).attr("fill", "#1a1a1a")
      .text(p.cls);
  }
});

// axis titles
svg.append("text")
  .attr("transform", "translate(23,408) rotate(-90)")
  .attr("text-anchor", "middle").attr("dominant-baseline", "central")
  .attr("font-family", SERIF).attr("font-weight", "bold")
  .attr("font-size", 16).attr("letter-spacing", 1.2).attr("fill", "#1a1a1a")
  .text("Flux [Jy]");

svg.append("text")
  .attr("x", 605).attr("y", 855)
  .attr("text-anchor", "middle")
  .attr("font-family", "'DejaVu Sans', 'Liberation Sans', sans-serif")
  .attr("font-size", 20).attr("word-spacing", 8).attr("letter-spacing", 1).attr("fill", "#222")
  .text("λ [μm]");

// blue page border
svg.append("rect").attr("x", 0).attr("y", 0).attr("width", W).attr("height", 7).attr("fill", BLUE);
svg.append("rect").attr("x", 0).attr("y", 0).attr("width", 12).attr("height", H).attr("fill", BLUE);
</script>
</body>
</html>
